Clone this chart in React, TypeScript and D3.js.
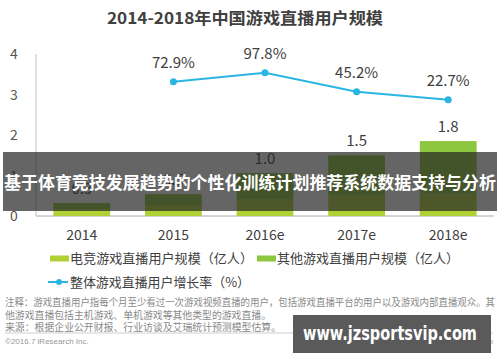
import * as d3 from 'd3';
import React, { useEffect, useRef } from 'react';

const years = ['2014', '2015', '2016e', '2017e', '2018e'];
const esportsUsers = [0.17, 0.27, 0.4, 0.5, 0.55];
const otherUsers = [0.15, 0.27, 0.66, 1.0, 1.3];
const totalLabels = ['0.3', '0.5', '1.0', '1.5', '1.8'];
const growthYears = ['2015', '2016e', '2017e', '2018e'];
const growthRates = [72.9, 97.8, 45.2, 22.7];
const yTicks = [0, 1, 2, 3, 4];

const FONT = '"Noto Sans CJK SC", "Noto Sans", sans-serif';
const ESPORTS_COLOR = '#afd136';
const OTHER_COLOR = '#8dc63f';
const LINE_COLOR = '#2bb5e3';

const App: React.FC = () => {
  const svgRef = useRef<SVGSVGElement>(null);

  useEffect(() => {
    if (!svgRef.current) return;
    const width = 500;
    const height = 362;

    const svg = d3.select(svgRef.current)
      .attr('width', width)
      .attr('height', height);
    svg.selectAll('*').remove();

    svg.append('rect').attr('width', width).attr('height', height).attr('fill', '#fff');

    // Title
    svg.append('text')
      .attr('x', 245)
      .attr('y', 24)
      .attr('text-anchor', 'middle')
      .attr('font-family', FONT)
      .attr('font-weight', 'bold')
      .attr('font-size', 16)
      .attr('fill', '#404040')
      .attr('textLength', 276)
      .attr('lengthAdjust', 'spacingAndGlyphs')
      .text('2014-2018年中国游戏直播用户规模');

    // Scales
    const x = d3.scaleBand()
      .domain(years)
      .range([36, 494])
      .paddingInner(0.38)
      .paddingOuter(0.19);

    const y = d3.scaleLinear().domain([0, 4]).range([216, 54]);
    const y2 = d3.scaleLinear().domain([-300, 150]).range([216, 54]);

    // Y tick labels
    svg.append('g')
      .selectAll('text')
      .data(yTicks)
      .join('text')
      .attr('x', 14)
      .attr('y', d => y(d) + 5)
      .attr('text-anchor', 'middle')
      .attr('font-family', FONT)
      .attr('font-size', 14)
      .attr('fill', '#555')
      .text(d => String(d));

    // Axes lines
    svg.append('line')
      .attr('x1', 36).attr('x2', 36)
      .attr('y1', y(4)).attr('y2', y(0))
      .attr('stroke', '#d4d4d4').attr('stroke-width', 1.5);
    svg.append('line')
      .attr('x1', 36).attr('x2', 494)
      .attr('y1', y(0)).attr('y2', y(0))
      .attr('stroke', '#d4d4d4').attr('stroke-width', 2);

    // Stacked bars
    const rows = years.map((yr, i) => ({ year: yr, esports: esportsUsers[i], other: otherUsers[i] }));
    const stack = d3.stack<{ year: string; esports: number; other: number }>()
      .keys(['esports', 'other']);
    const series = stack(rows);
    const colors = [ESPORTS_COLOR, OTHER_COLOR];

    svg.append('g')
      .selectAll('g')
      .data(series)
      .join('g')
      .attr('fill', (_, i) => colors[i])
      .selectAll('rect')
      .data(d => d)
      .join('rect')
      .attr('x', d => x(d.data.year) || 0)
      .attr('width', x.bandwidth())
      .attr('y', d => y(d[1]))
      .attr('height', d => y(d[0]) - y(d[1]));

    // Bar total labels
    svg.append('g')
      .selectAll('text')
      .data(rows)
      .join('text')
      .attr('x', d => (x(d.year) || 0) + x.bandwidth() / 2)
      .attr('y', d => y(d.esports + d.other) - 9)
      .attr('text-anchor', 'middle')
      .attr('font-family', FONT)
      .attr('font-size', 15)
      .attr('fill', '#404040')
      .text((_, i) => totalLabels[i]);

    // Growth line
    const pts = growthYears.map((yr, i) => ({ year: yr, v: growthRates[i] }));
    const line = d3.line<{ year: string; v: number }>()
      .x(d => (x(d.year) || 0) + x.bandwidth() / 2)
      .y(d => y2(d.v));
    svg.append('path')
      .datum(pts)
      .attr('d', line)
      .attr('fill', 'none')
      .attr('stroke', LINE_COLOR)
      .attr('stroke-width', 2);
    svg.append('g')
      .selectAll('circle')
      .data(pts)
      .join('circle')
      .attr('cx', d => (x(d.year) || 0) + x.bandwidth() / 2)
      .attr('cy', d => y2(d.v))
      .attr('r', 3.5)
      .attr('fill', LINE_COLOR);
    svg.append('g')
      .selectAll('text')
      .data(pts)
      .join('text')
      .attr('x', d => (x(d.year) || 0) + x.bandwidth() / 2)
      .attr('y', d => y2(d.v) - 14)
      .attr('text-anchor', 'middle')
      .attr('font-family', FONT)
      .attr('font-size', 15)
      .attr('fill', '#404040')
      .text(d => `${d.v.toFixed(1)}%`);

    // X labels
    svg.append('g')
      .selectAll('text')
      .data(years)
      .join('text')
      .attr('x', d => (x(d) || 0) + x.bandwidth() / 2)
      .attr('y', 240)
      .attr('text-anchor', 'middle')
      .attr('font-family', FONT)
      .attr('font-size', 14)
      .attr('fill', '#404040')
      .text(d => d);

    // Legend
    const lg = svg.append('g').attr('font-family', FONT).attr('font-size', 13).attr('fill', '#404040');
    lg.append('rect').attr('x', 50).attr('y', 255.5).attr('width', 19).attr('height', 6).attr('fill', ESPORTS_COLOR);
    lg.append('text').attr('x', 70).attr('y', 263).attr('textLength', 183).attr('lengthAdjust', 'spacingAndGlyphs')
      .text('电竞游戏直播用户规模（亿人）');
    lg.append('rect').attr('x', 257).attr('y', 255.5).attr('width', 19).attr('height', 6).attr('fill', OTHER_COLOR);
    lg.append('text').attr('x', 277).attr('y', 263).attr('textLength', 182).attr('lengthAdjust', 'spacingAndGlyphs')
      .text('其他游戏直播用户规模（亿人）');
    lg.append('line').attr('x1', 48).attr('x2', 68).attr('y1', 282).attr('y2', 282)
      .attr('stroke', LINE_COLOR).attr('stroke-width', 2);
    lg.append('circle').attr('cx', 59).attr('cy', 282).attr('r', 3).attr('fill', LINE_COLOR);
    lg.append('text').attr('x', 70).attr('y', 287).attr('textLength', 180).attr('lengthAdjust', 'spacingAndGlyphs')
      .text('整体游戏直播用户增长率（%）');

    // Notes
    const notes = [
      '注释：游戏直播用户指每个月至少看过一次游戏视频直播的用户，包括游戏直播平台的用户以及游戏内部直播观众。其',
      '他游戏直播包括主机游戏、单机游戏等其他类型的游戏直播。',
      '来源：根据企业公开财报、行业访谈及艾瑞统计预测模型估算。',
    ];
    const noteLens = [490, 266, 276];
    svg.append('g')
      .selectAll('text')
      .data(notes)
      .join('text')
      .attr('x', 5)
      .attr('y', (_, i) => 306 + i * 12.5)
      .attr('font-family', FONT)
      .attr('font-size', 10)
      .attr('fill', '#8a8a8a')
      .attr('textLength', (_, i) => noteLens[i])
      .attr('lengthAdjust', 'spacingAndGlyphs')
      .text(d => d);

    svg.append('line')
      .attr('x1', 5).attr('x2', 493).attr('y1', 333).attr('y2', 333)
      .attr('stroke', '#cfcfcf').attr('stroke-width', 1);
    svg.append('text')
      .attr('x', 5).attr('y', 344)
      .attr('font-family', '"Liberation Sans", sans-serif')
      .attr('font-size', 8)
      .attr('fill', '#999')
      .text('©2016.7 iResearch Inc.');
    svg.append('text')
      .attr('x', 493).attr('y', 344)
      .attr('text-anchor', 'end')
      .attr('font-family', '"Liberation Sans", sans-serif')
      .attr('font-size', 8)
      .attr('fill', '#999')
      .text('www.iresearch.com.cn');

    // Overlay banner
    svg.append('rect')
      .attr('x', 3).attr('y', 152).attr('width', 494).attr('height', 59)
      .attr('fill', 'rgba(35,35,35,0.7)');
    svg.append('text')
      .attr('x', 250).attr('y', 189)
      .attr('text-anchor', 'middle')
      .attr('font-family', FONT)
      .attr('font-weight', 'bold')
      .attr('font-size', 17)
      .attr('fill', '#fff')
      .attr('textLength', 492)
      .attr('lengthAdjust', 'spacingAndGlyphs')
      .text('基于体育竞技发展趋势的个性化训练计划推荐系统数据支持与分析');

    // Watermark
    svg.append('rect')
      .attr('x', 293).attr('y', 315).attr('width', 198).attr('height', 38)
      .attr('fill', '#5a5a5a');
    svg.append('text')
      .attr('x', 390).attr('y', 340)
      .attr('text-anchor', 'middle')
      .attr('font-family', '"DejaVu Sans", sans-serif')
      .attr('font-weight', 'bold')
      .attr('font-size', 19)
      .attr('fill', '#fff')
      .attr('textLength', 174)
      .attr('lengthAdjust', 'spacingAndGlyphs')
      .text('www.jzsportsvip.com');
  }, []);

  return (
    <svg ref={svgRef} style={{ position: 'absolute', left: 0, top: 0, display: 'block' }} />
  );
};

export default App;
